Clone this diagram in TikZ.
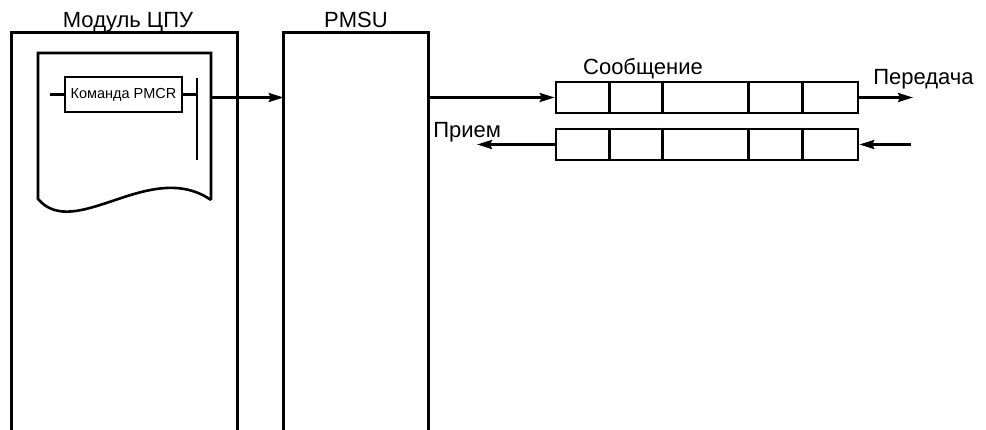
\documentclass[tikz,border=0pt]{standalone}
\usepackage{fontspec}
\setmainfont{Liberation Sans}
\usetikzlibrary{arrows.meta,calc}
\begin{document}
\begin{tikzpicture}[x=1pt,y=-1pt,line width=2.6pt,line join=miter,
  arr/.style={-{Stealth[length=15pt,width=9pt,inset=2pt]},line width=2.6pt},
  lbl/.style={font=\fontsize{22}{26}\selectfont,inner sep=0pt,anchor=base},
  msgbox/.style={draw,line width=2.6pt,minimum width=302pt,minimum height=31pt,inner sep=0pt},
  cmdbox/.style={draw,line width=2.6pt,minimum width=117pt,minimum height=35pt,inner sep=0pt,
    font=\fontsize{14.5}{17}\selectfont},
  frame/.style={draw=none,inner sep=0pt}]
\useasboundingbox (0,0) rectangle (986,429);

% CPU module frame (open at the bottom)
\node[frame,minimum width=223pt,minimum height=400pt] (cpu) at (124.5,234) {};
\draw (cpu.south west) -- (cpu.north west) -- (cpu.north east) -- (cpu.south east);
% PMSU frame
\node[frame,minimum width=142pt,minimum height=400pt] (pmsu) at (356,234) {};
\draw (pmsu.south west) -- (pmsu.north west) -- (pmsu.north east) -- (pmsu.south east);

\node[lbl] (cpulbl) at (128,27) {Модуль ЦПУ};
\node[lbl] (pmsulbl) at (356,27) {PMSU};

% document (program) shape
\coordinate (dtl) at (38,53);
\coordinate (dtr) at (211,53);
\coordinate (dbl) at (38,199);
\coordinate (dbr) at (211,200);
\draw (dbr) -- (dtr) -- (dtl) -- (dbl)
  .. controls (75,242) and (150,158) .. (dbr);

% ladder instruction
\node[cmdbox] (cmd) at (123.5,94.5) {Команда PMCR};
\coordinate (lin) at (50,94.5);
\coordinate (bartop) at (197,78);
\coordinate (barbot) at (197,160);
\draw (lin) -- (cmd.west);
\draw (cmd.east) -- (cmd.east -| bartop);
\draw (bartop) -- (barbot);

% arrow from document to PMSU
\draw[arr] (dtr |- 0,97.5) -- (pmsu.west |- 0,97.5);

% message frames
\node[msgbox] (msgout) at (707,97.5) {};
\node[msgbox] (msgin) at (707,144.5) {};
\foreach \dx in {55,108,194,248}{
  \draw ($(msgout.north west)+(\dx,0)$) -- ($(msgout.south west)+(\dx,0)$);
  \draw ($(msgin.north west)+(\dx,0)$) -- ($(msgin.south west)+(\dx,0)$);
}
\node[lbl] (msglbl) at (643,74) {Сообщение};

\draw[arr] (pmsu.east |- msgout.west) -- (msgout.west);
\coordinate (txend) at (913,97.5);
\draw[arr] (msgout.east) -- (txend);
\node[lbl,anchor=base west] (txlbl) at (872,84) {Передача};

\coordinate (rxstart) at (911,144.5);
\coordinate (rxend) at (477,144.5);
\draw[arr] (rxstart) -- (msgin.east);
\draw[arr] (msgin.west) -- (rxend);
\node[lbl,anchor=base west] (rxlbl) at (432,137) {Прием};
\end{tikzpicture}
\end{document}
